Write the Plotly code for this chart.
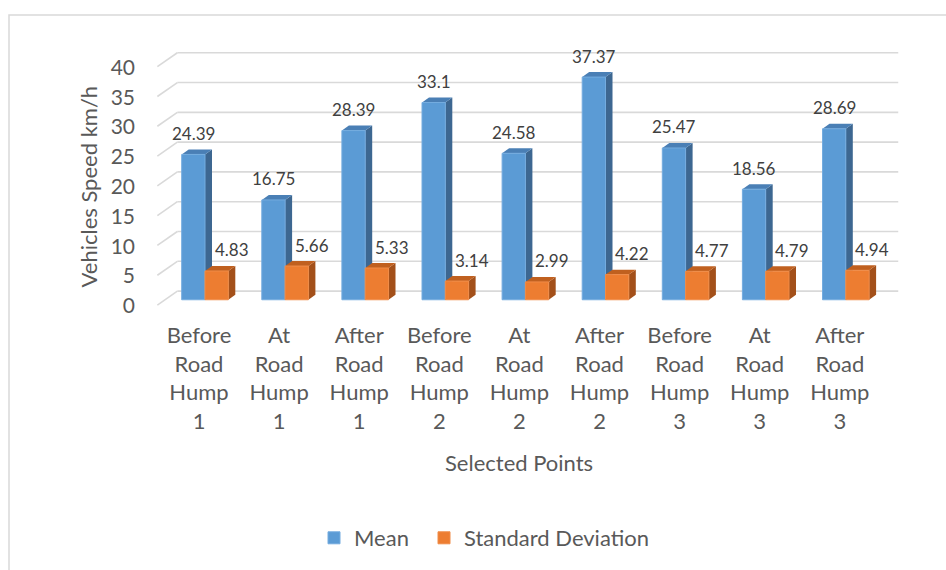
import plotly.graph_objects as go

# ---- data ----
categories = [
    "Before<br>Road<br>Hump<br>1", "At<br>Road<br>Hump<br>1", "After<br>Road<br>Hump<br>1",
    "Before<br>Road<br>Hump<br>2", "At<br>Road<br>Hump<br>2", "After<br>Road<br>Hump<br>2",
    "Before<br>Road<br>Hump<br>3", "At<br>Road<br>Hump<br>3", "After<br>Road<br>Hump<br>3",
]
mean_speed = [24.39, 16.75, 28.39, 33.1, 24.58, 37.37, 25.47, 18.56, 28.69]
std_dev = [4.83, 5.66, 5.33, 3.14, 2.99, 4.22, 4.77, 4.79, 4.94]
y_ticks = [0, 5, 10, 15, 20, 25, 30, 35, 40]

# ---- layout geometry (pixels) ----
W, H = 946, 570
PX_X = 80.1          # pixels per category
PX_Y = 5.98          # pixels per km/h
M_L, M_R, M_T, M_B = 149, 36, 38, 254
plot_w = W - M_L - M_R
plot_h = H - M_T - M_B
zero_px_x = 205      # pixel x of category 0 centre
zero_px_y = 300.7    # pixel y of value 0 on the bar plane
x0 = -(zero_px_x - M_L) / PX_X
x_range = [x0, x0 + plot_w / PX_X]
y_bot = -((M_T + plot_h) - zero_px_y) / PX_Y
y_range = [y_bot, y_bot + plot_h / PX_Y]

# depth offsets expressed in axis units
BACK_DX, BACK_DY = 12.4 / PX_X, 8.7 / PX_Y      # bar plane -> back wall
FRONT_DX, FRONT_DY = -7.6 / PX_X, -5.3 / PX_Y   # bar plane -> front edge
BAR_DX, BAR_DY = 7.0 / PX_X, 5.0 / PX_Y         # bar depth
BAR_W = 23.3 / PX_X

GRID = "#D9D9D9"
TXT = "#595959"
LBL = "#404040"
FONT = "Lato"

BLUE, BLUE_TOP, BLUE_SIDE, BLUE_EDGE = "#5B9BD5", "#4A7FB5", "#3D6791", "#74ACDF"
ORANGE, ORANGE_TOP, ORANGE_SIDE, ORANGE_EDGE = "#ED7D31", "#C0601F", "#A3501A", "#F08C48"

xs = list(range(len(categories)))


def px_to_paper_x(px):
    return (px - M_L) / plot_w


def px_to_paper_y(py):
    return (M_T + plot_h - py) / plot_h


fig = go.Figure()
fig.add_trace(go.Bar(
    x=xs, y=mean_speed, name="Mean", width=BAR_W, offset=-BAR_W,
    marker=dict(color=BLUE, line=dict(color=BLUE_EDGE, width=1)),
    legend="legend",
))
fig.add_trace(go.Bar(
    x=xs, y=std_dev, name="Standard Deviation", width=BAR_W, offset=0,
    marker=dict(color=ORANGE, line=dict(color=ORANGE_EDGE, width=1)),
    legend="legend2",
))

shapes = []
# back wall gridlines and floor-side slants
for v in y_ticks:
    shapes.append(dict(type="line", xref="x", yref="y", layer="below",
                       x0=-0.5 + BACK_DX, x1=8.5 + BACK_DX,
                       y0=v + BACK_DY, y1=v + BACK_DY,
                       line=dict(color=GRID, width=1.6)))
    shapes.append(dict(type="line", xref="x", yref="y", layer="below",
                       x0=-0.5 + FRONT_DX, x1=-0.5 + BACK_DX,
                       y0=v + FRONT_DY, y1=v + BACK_DY,
                       line=dict(color=GRID, width=1.6)))


def box_faces(xl, xr, v, top_col, side_col):
    top = (f"M{xl},{v} L{xl + BAR_DX},{v + BAR_DY} "
           f"L{xr + BAR_DX},{v + BAR_DY} L{xr},{v} Z")
    side = (f"M{xr},0 L{xr},{v} L{xr + BAR_DX},{v + BAR_DY} "
            f"L{xr + BAR_DX},{BAR_DY} Z")
    return [
        dict(type="path", path=side, xref="x", yref="y", layer="below",
             fillcolor=side_col, line=dict(width=0)),
        dict(type="path", path=top, xref="x", yref="y", layer="below",
             fillcolor=top_col, line=dict(width=0)),
    ]


for i, v in enumerate(mean_speed):
    shapes += box_faces(i - BAR_W, i, v, BLUE_TOP, BLUE_SIDE)
for i, v in enumerate(std_dev):
    shapes += box_faces(i, i + BAR_W, v, ORANGE_TOP, ORANGE_SIDE)

# outer chart border (top and left edges visible)
shapes.append(dict(type="rect", xref="paper", yref="paper",
                   x0=px_to_paper_x(9), x1=px_to_paper_x(W + 20),
                   y0=px_to_paper_y(H + 20), y1=px_to_paper_y(15),
                   line=dict(color=GRID, width=1.5), layer="below"))

annotations = []
for i, v in enumerate(mean_speed):
    annotations.append(dict(x=i - BAR_W / 2, y=v, xref="x", yref="y", text=f"{v:g}",
                            showarrow=False, yshift=21, xshift=0,
                            xanchor="center", yanchor="middle",
                            font=dict(family=FONT, size=17, color=LBL)))
for i, v in enumerate(std_dev):
    annotations.append(dict(x=i + BAR_W / 2, y=v, xref="x", yref="y", text=f"{v:g}",
                            showarrow=False, yshift=21, xshift=15,
                            xanchor="center", yanchor="middle",
                            font=dict(family=FONT, size=17, color=LBL)))

# axis titles
annotations.append(dict(x=px_to_paper_x(518.7), y=px_to_paper_y(464),
                        xref="paper", yref="paper", text="Selected Points", showarrow=False,
                        xanchor="center", yanchor="middle",
                        font=dict(family=FONT, size=22, color=TXT)))
annotations.append(dict(x=px_to_paper_x(88), y=px_to_paper_y(187),
                        xref="paper", yref="paper", text="Vehicles Speed km/h", showarrow=False,
                        xanchor="center", yanchor="middle",
                        textangle=-90, font=dict(family=FONT, size=22, color=TXT)))

legend_style = dict(orientation="h", xanchor="left", yanchor="middle",
                    y=px_to_paper_y(538), bgcolor="rgba(0,0,0,0)",
                    font=dict(family=FONT, size=22, color=TXT), itemwidth=30)

fig.update_layout(
    width=W, height=H,
    margin=dict(l=M_L, r=M_R, t=M_T, b=M_B),
    paper_bgcolor="white", plot_bgcolor="white",
    barmode="overlay",
    shapes=shapes, annotations=annotations,
    showlegend=True,
    legend=dict(x=px_to_paper_x(314), **legend_style),
    legend2=dict(x=px_to_paper_x(424), **legend_style),
    xaxis=dict(range=x_range, tickvals=xs, ticktext=categories, showgrid=False,
               zeroline=False, showline=False, ticks="",
               tickfont=dict(family=FONT, size=22, color=TXT),
               ticklabelshift=-6, ticklabelstandoff=5, tickangle=0),
    yaxis=dict(range=y_range, tickvals=y_ticks, showgrid=False, zeroline=False,
               showline=False, ticks="",
               tickfont=dict(family=FONT, size=21, color=TXT),
               ticklabelshift=6, ticklabelstandoff=13),
)

fig.write_html("out.html")
